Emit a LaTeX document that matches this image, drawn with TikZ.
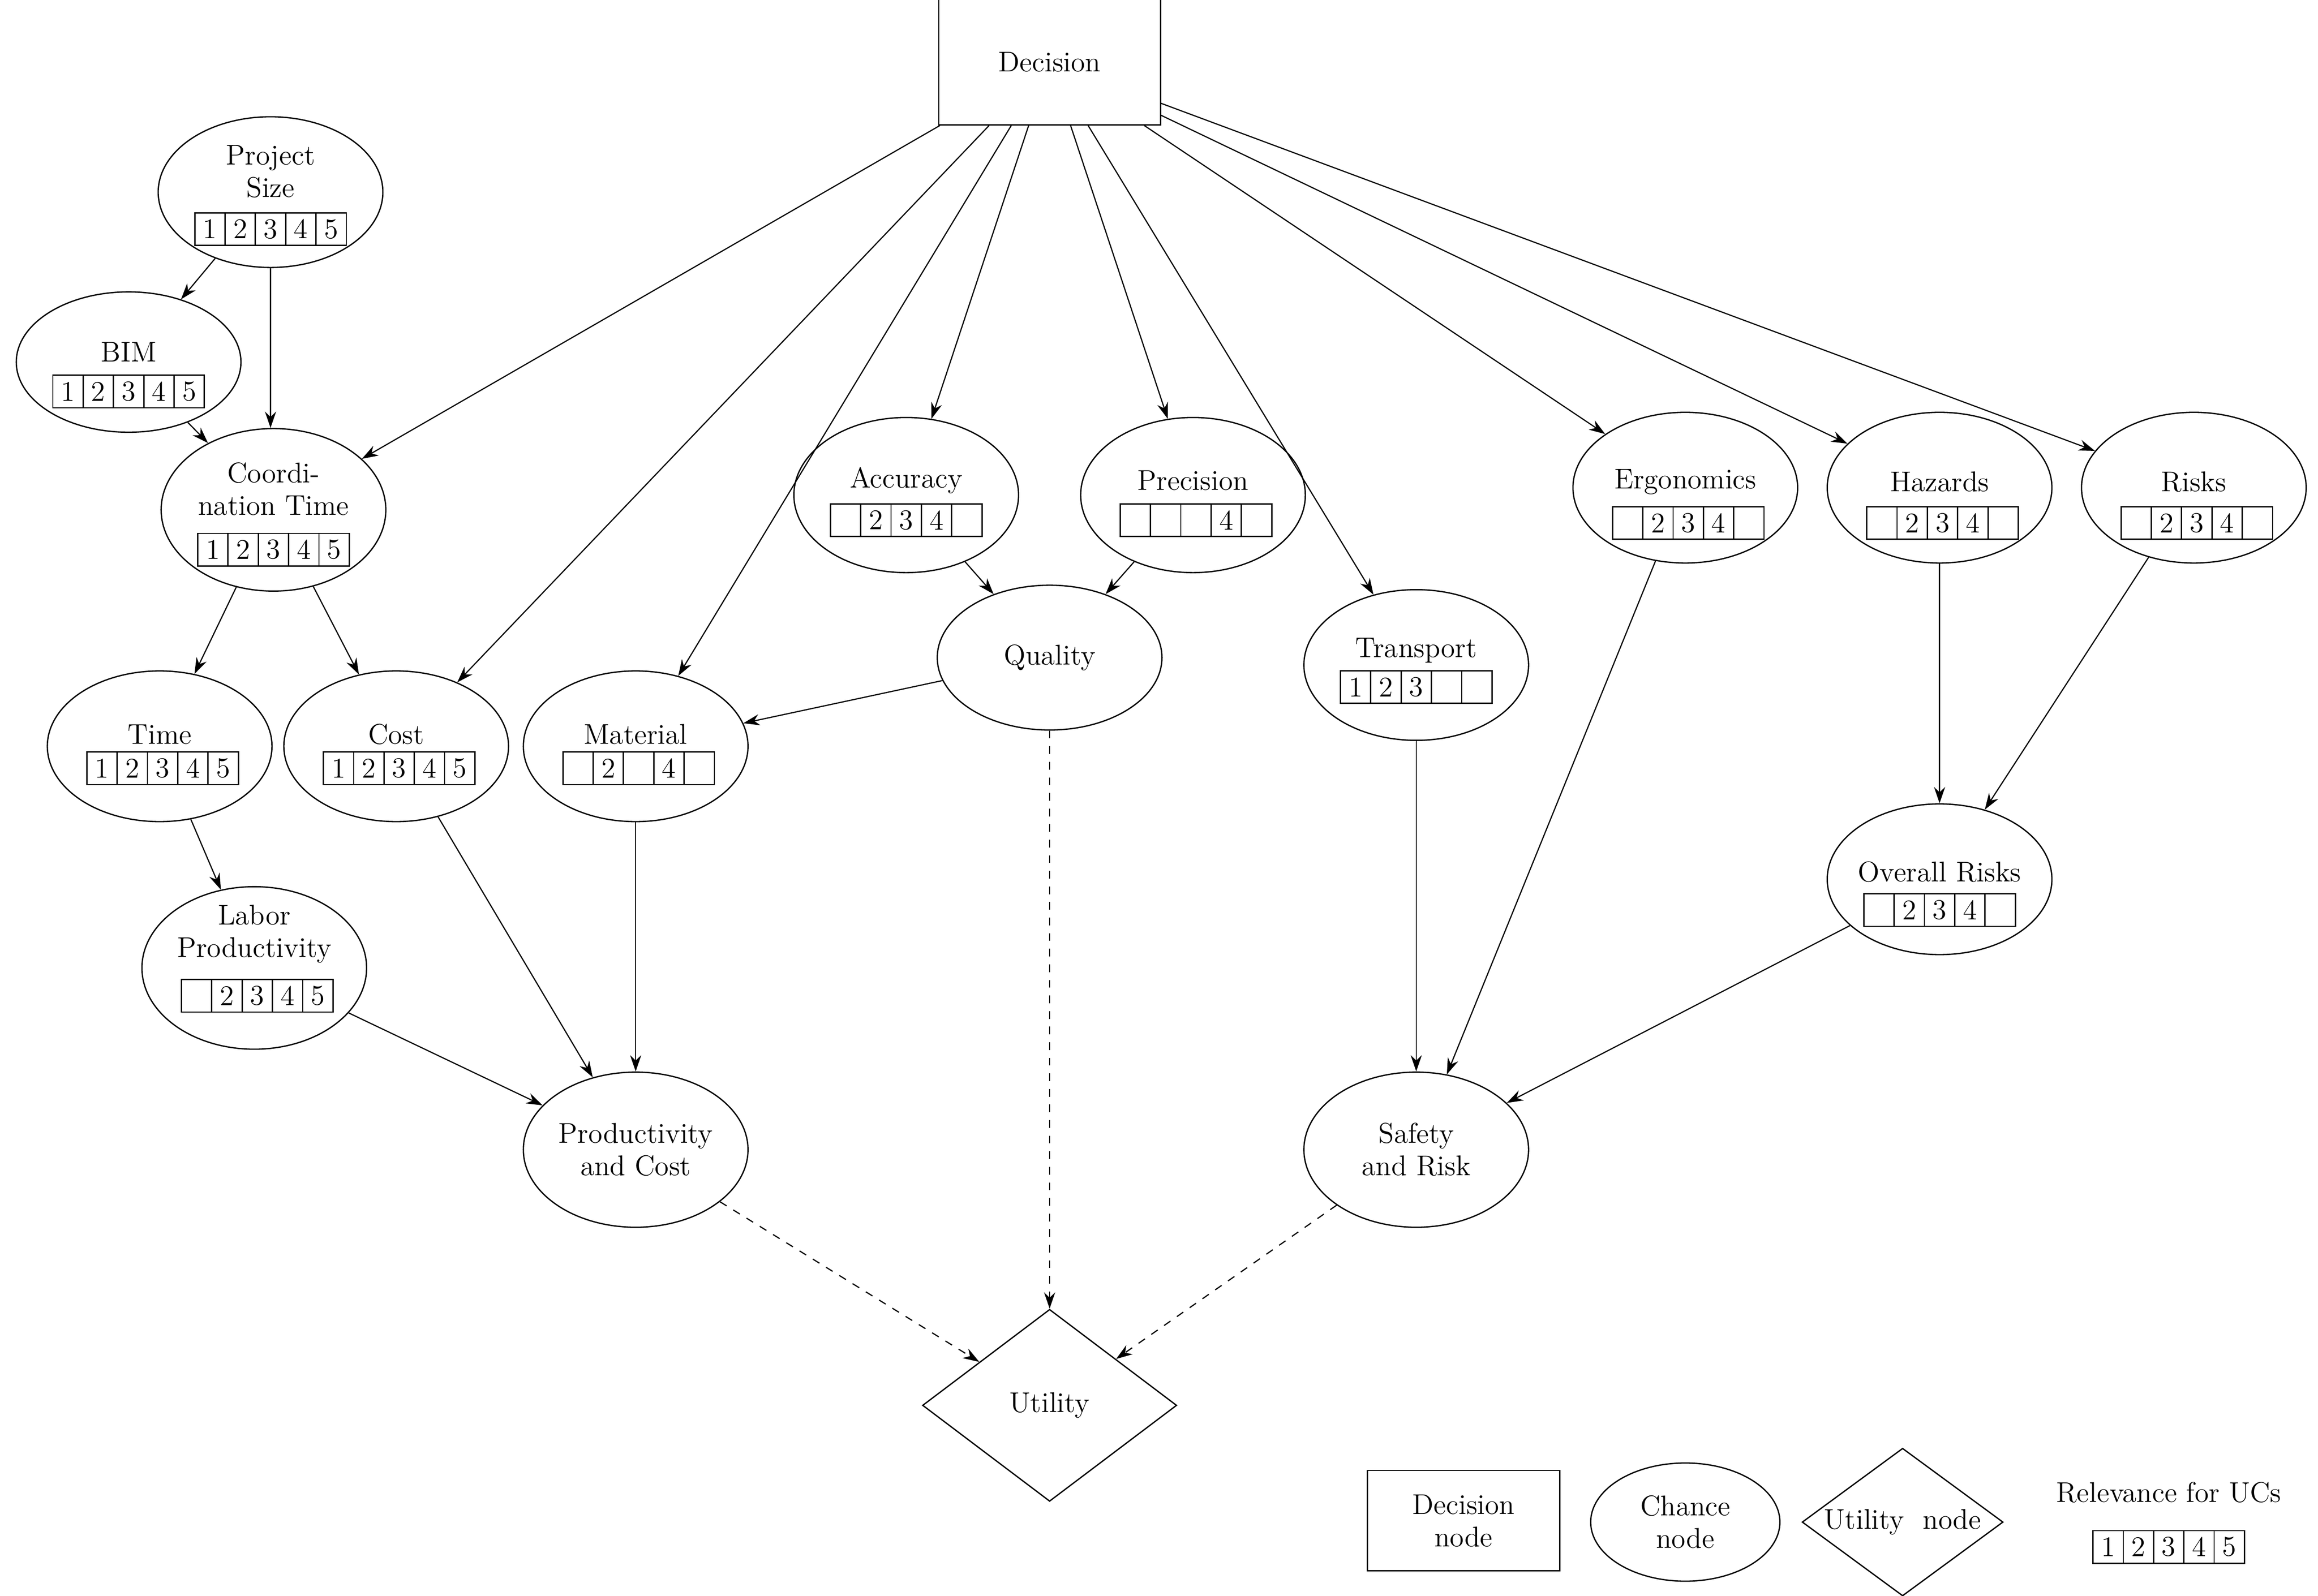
\documentclass[tikz,border=0pt]{standalone}
\usetikzlibrary{shapes.geometric,arrows.meta}
\newcommand\ucrow[7]{% name, x, y, five cells
  \foreach \k/\t in {1/#3,2/#4,3/#5,4/#6,5/#7}{
    \node[cell] (#1-\k) at ({#2+(\k-3)*20.5},0) {\t};}}
\begin{document}
\begin{tikzpicture}[x=0.02cm,y=-0.02cm,
  every node/.style={font=\fontsize{11}{12.5}\selectfont,align=center},
  cell/.style={draw,minimum width=0.41cm,minimum height=0.44cm,inner sep=0pt,line width=0.5pt},
  chance/.style={ellipse,draw,minimum width=3.04cm,minimum height=2.04cm,line width=0.5pt},
  txt/.style={inner sep=0pt},
  arr/.style={-{Stealth[length=0.22cm,width=0.15cm]},line width=0.45pt},
  dsh/.style={arr,dashed}]
\useasboundingbox (0,0) rectangle (1568,1080);
% Decision
\node[draw,minimum width=3cm,minimum height=1.7cm,line width=0.5pt] (dec) at (710,42) {Decision};
% chance nodes
\newcommand\ch[5]{\node[chance,#5] (#1) at (#2,#3) {};}
\ch{ps}{183}{130}{}{}
\node[txt] (pst) at (183,116) {Project\\Size};
\begin{scope}[yshift=-3.1cm]\ucrow{psr}{183}{1}{2}{3}{4}{5}\end{scope}
\ch{bim}{87}{245}{}{minimum height=1.9cm}
\node[txt] (bimt) at (87,238) {BIM};
\begin{scope}[yshift=-5.3cm]\ucrow{bimr}{87}{1}{2}{3}{4}{5}\end{scope}
\ch{ct}{185}{345}{}{minimum height=2.2cm}
\node[txt] (ctt) at (185,331) {Coordi-\\nation Time};
\begin{scope}[yshift=-7.44cm]\ucrow{ctr}{185}{1}{2}{3}{4}{5}\end{scope}
\ch{time}{108}{505}{}{}
\node[txt] (timet) at (108,497) {Time};
\begin{scope}[yshift=-10.4cm]\ucrow{timer}{110}{1}{2}{3}{4}{5}\end{scope}
\ch{cost}{268}{505}{}{}
\node[txt] (costt) at (268,497) {Cost};
\begin{scope}[yshift=-10.4cm]\ucrow{costr}{270}{1}{2}{3}{4}{5}\end{scope}
\ch{mat}{430}{505}{}{}
\node[txt] (matt) at (430,497) {Material};
\begin{scope}[yshift=-10.4cm]\ucrow{matr}{432}{}{2}{}{4}{}\end{scope}
\ch{lab}{172}{655}{}{minimum height=2.2cm}
\node[txt] (labt) at (172,632) {Labor\\Productivity};
\begin{scope}[yshift=-13.48cm]\ucrow{labr}{174}{}{2}{3}{4}{5}\end{scope}
\ch{pc}{430}{778}{}{minimum height=2.1cm}
\node[txt] (pct) at (430,778) {Productivity\\and Cost};
\ch{acc}{613}{335}{}{minimum height=2.1cm}
\node[txt] (acct) at (613,325) {Accuracy};
\begin{scope}[yshift=-7.04cm]\ucrow{accr}{613}{}{2}{3}{4}{}\end{scope}
\ch{pre}{807}{335}{}{minimum height=2.1cm}
\node[txt] (pret) at (807,325) {Precision};
\begin{scope}[yshift=-7.04cm]\ucrow{prer}{809}{}{}{}{4}{}\end{scope}
\ch{qual}{710}{445}{}{minimum height=1.96cm}
\node[txt] (qualt) at (710,445) {Quality};
\ch{tra}{958}{450}{}{}
\node[txt] (trat) at (958,440) {Transport};
\begin{scope}[yshift=-9.3cm]\ucrow{trar}{958}{1}{2}{3}{}{}\end{scope}
\ch{erg}{1140}{330}{}{}
\node[txt] (ergt) at (1140,326) {Ergonomics};
\begin{scope}[yshift=-7.08cm]\ucrow{ergr}{1142}{}{2}{3}{4}{}\end{scope}
\ch{haz}{1312}{330}{}{}
\node[txt] (hazt) at (1312,326) {Hazards};
\begin{scope}[yshift=-7.08cm]\ucrow{hazr}{1314}{}{2}{3}{4}{}\end{scope}
\ch{risk}{1484}{330}{}{}
\node[txt] (riskt) at (1484,326) {Risks};
\begin{scope}[yshift=-7.08cm]\ucrow{riskr}{1486}{}{2}{3}{4}{}\end{scope}
\ch{ovr}{1312}{595}{}{}
\node[txt] (ovrt) at (1312,590) {Overall Risks};
\begin{scope}[yshift=-12.32cm]\ucrow{ovrr}{1312}{}{2}{3}{4}{}\end{scope}
\ch{sr}{958}{778}{}{minimum height=2.1cm}
\node[txt] (srt) at (958,778) {Safety\\and Risk};
% utility
\node[diamond,draw,minimum width=3.44cm,minimum height=2.6cm,inner sep=0pt,line width=0.5pt] (util) at (710,951) {};
\node[txt] (utilt) at (710,951) {Utility};
% edges
\foreach \t in {ct,cost,mat,acc,pre,tra,erg,haz,risk}{\draw[arr] (dec) -- (\t);}
\draw[arr] (ps) -- (bim);
\draw[arr] (ps.south) -- (ct.north -| ps.south);
\draw[arr] (bim) -- (ct);
\draw[arr] (ct) -- (time);
\draw[arr] (ct) -- (cost);
\draw[arr] (time) -- (lab);
\draw[arr] (lab) -- (pc);
\draw[arr] (cost) -- (pc);
\draw[arr] (mat) -- (pc);
\draw[arr] (acc) -- (qual);
\draw[arr] (pre) -- (qual);
\draw[arr] (qual) -- (mat);
\draw[arr] (tra) -- (sr);
\draw[arr] (erg) -- (sr);
\draw[arr] (haz) -- (ovr);
\draw[arr] (risk) -- (ovr);
\draw[arr] (ovr) -- (sr);
\draw[dsh] (qual) -- (util);
\draw[dsh] (pc) -- (util);
\draw[dsh] (sr) -- (util);
% legend
\node[draw,minimum width=2.6cm,minimum height=1.36cm,line width=0.5pt] (ldec) at (990,1029) {Decision\\node};
\node[ellipse,draw,minimum width=2.56cm,minimum height=1.6cm,line width=0.5pt] (lch) at (1140,1030) {};
\node[txt] (lcht) at (1140,1030) {Chance\\node};
\node[diamond,draw,minimum width=2.72cm,minimum height=2cm,inner sep=0pt,line width=0.5pt] (lut) at (1287,1030) {};
\node[txt] (lutt) at (1287,1030) {Utility\ \ node};
\node[txt] (lrel) at (1467,1010) {Relevance for UCs};
\begin{scope}[yshift=-20.94cm]\ucrow{lr}{1467}{1}{2}{3}{4}{5}\end{scope}
\end{tikzpicture}
\end{document}
